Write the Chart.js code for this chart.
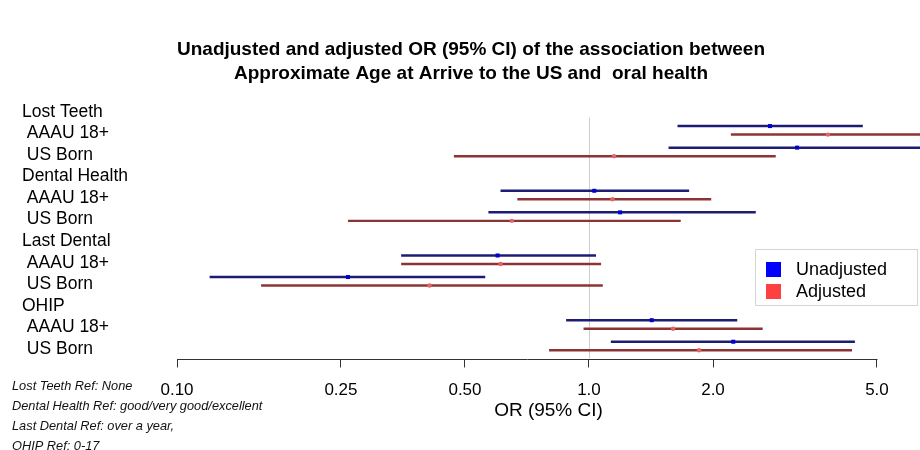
<!DOCTYPE html>
<html>
<head>
<meta charset="utf-8">
<script src="https://cdn.jsdelivr.net/npm/chart.js@4.4.0/dist/chart.umd.min.js"></script>
<style>
  html, body { margin: 0; padding: 0; background: #fff; }
</style>
</head>
<body>
<canvas id="myChart" width="920" height="450"></canvas>
<script>
'use strict';
// data
const rowLabels = ['Lost Teeth', ' AAAU 18+', ' US Born', 'Dental Health', ' AAAU 18+', ' US Born',
    'Last Dental', ' AAAU 18+', ' US Born', 'OHIP', ' AAAU 18+', ' US Born'];
const dataRows = [1, 2, 4, 5, 7, 8, 10, 11];
const unadjOR = [2.75, 3.20, 1.03, 1.19, 0.60, 0.26, 1.42, 2.24];
const unadjLow = [1.64, 1.56, 0.61, 0.57, 0.35, 0.12, 0.88, 1.13];
const unadjHigh = [4.62, 6.58, 1.75, 2.54, 1.04, 0.56, 2.29, 4.42];
const adjOR = [3.80, 1.15, 1.14, 0.65, 0.61, 0.41, 1.60, 1.85];
const adjLow = [2.21, 0.47, 0.67, 0.26, 0.35, 0.16, 0.97, 0.80];
const adjHigh = [6.54, 2.84, 1.98, 1.67, 1.07, 1.08, 2.64, 4.35];
const xTicks = [0.1, 0.25, 0.5, 1, 2, 5];
const xTickLabels = ['0.10', '0.25', '0.50', '1.0', '2.0', '5.0'];
const footnotes = ['Lost Teeth Ref: None', 'Dental Health Ref: good/very good/excellent',
    'Last Dental Ref: over a year,', 'OHIP Ref: 0-17'];
const legendItems = [['Unadjusted', '#0000ff'], ['Adjusted', '#ff4040']];

Chart.defaults.font.family = '"Liberation Sans", Arial, sans-serif';
Chart.defaults.color = '#000';

// extra drawing: reference line, OR points, axis line, legend, footnotes
const forestPlugin = {
    id: 'forest',
    beforeDatasetsDraw(chart) {
        const {ctx, scales: {x, y}, chartArea} = chart;
        const px = Math.round(x.getPixelForValue(1)) + 0.5;
        ctx.save();
        ctx.strokeStyle = '#cfcfcf';
        ctx.lineWidth = 1;
        ctx.beginPath();
        ctx.moveTo(px, y.getPixelForValue(0.4));
        ctx.lineTo(px, chartArea.bottom);
        ctx.stroke();
        ctx.restore();
    },
    afterDatasetsDraw(chart) {
        const {ctx, scales: {x}} = chart;
        ctx.save();
        chart.data.datasets.forEach((ds, di) => {
            const meta = chart.getDatasetMeta(di);
            meta.data.forEach((el, i) => {
                const px = x.getPixelForValue(ds.orValues[i]);
                ctx.fillStyle = ds.pointColor;
                if (di === 0) {
                    ctx.fillRect(px - 2, el.y - 2, 4, 4);
                } else {
                    ctx.beginPath();
                    ctx.arc(px, el.y, 2.2, 0, Math.PI * 2);
                    ctx.fill();
                }
            });
        });
        ctx.restore();
    },
    afterDraw(chart) {
        const {ctx, scales: {x}, chartArea} = chart;
        ctx.save();
        // axis line only between first and last tick
        const yb = Math.round(chartArea.bottom) + 0.5;
        ctx.strokeStyle = '#333';
        ctx.lineWidth = 1;
        ctx.beginPath();
        ctx.moveTo(Math.round(x.getPixelForValue(xTicks[0])) + 0.5, yb);
        ctx.lineTo(Math.round(x.getPixelForValue(xTicks[xTicks.length - 1])) + 0.5, yb);
        ctx.stroke();

        // legend
        ctx.fillStyle = '#fff';
        ctx.fillRect(755, 249, 162, 56);
        ctx.strokeStyle = '#d6d6d6';
        ctx.strokeRect(755.5, 249.5, 162, 56);
        ctx.font = '18px "Liberation Sans", Arial, sans-serif';
        ctx.textBaseline = 'middle';
        legendItems.forEach(([label, color], i) => {
            const cy = 269 + i * 22;
            ctx.fillStyle = color;
            ctx.fillRect(766, cy - 7, 15, 15);
            ctx.fillStyle = '#000';
            ctx.fillText(label, 796, cy + 1);
        });

        // footnotes
        ctx.font = 'italic 12.8px "Liberation Sans", Arial, sans-serif';
        ctx.fillStyle = '#111';
        footnotes.forEach((t, i) => {
            ctx.fillText(t, 12, 386 + i * 20);
        });
        ctx.restore();
    }
};

const ctx = document.getElementById('myChart');
const myChart = new Chart(ctx.getContext('2d'), {
    type: 'bar',
    data: {
        datasets: [{
            label: 'Unadjusted',
            data: dataRows.map((r, i) => ({y: r, x: [unadjLow[i], unadjHigh[i]]})),
            orValues: unadjOR,
            pointColor: '#0000d0',
            backgroundColor: '#1c1c74',
            borderWidth: 0
        }, {
            label: 'Adjusted',
            data: dataRows.map((r, i) => ({y: r, x: [adjLow[i], adjHigh[i]]})),
            orValues: adjOR,
            pointColor: '#e86464',
            backgroundColor: '#8c3434',
            borderWidth: 0
        }]
    },
    options: {
        indexAxis: 'y',
        responsive: false,
        animation: false,
        categoryPercentage: 0.79,
        barPercentage: 0.29,
        layout: {
            padding: {left: 22, right: 0, top: 0, bottom: 0}
        },
        plugins: {
            legend: {display: false},
            tooltip: {enabled: false},
            title: {
                display: true,
                text: ['Unadjusted and adjusted OR (95% CI) of the association between',
                    'Approximate Age at Arrive to the US and  oral health'],
                font: {size: 19, weight: 'bold', lineHeight: 1.263},
                color: '#000',
                padding: {top: 38, bottom: 12}
            }
        },
        scales: {
            x: {
                type: 'logarithmic',
                bounds: 'data',
                min: 0.1,
                max: 6.36,
                afterBuildTicks: s => { s.ticks = xTicks.map(v => ({value: v})); },
                afterFit: s => { s.height = 91.5; },
                ticks: {
                    callback: (v, i) => xTickLabels[i],
                    font: {size: 17},
                    color: '#000',
                    padding: 13,
                    maxRotation: 0,
                    autoSkip: false
                },
                grid: {drawOnChartArea: false, tickLength: 9, color: '#333'},
                border: {display: false},
                title: {
                    display: true,
                    text: 'OR (95% CI)',
                    font: {size: 19},
                    color: '#000',
                    padding: {top: 0, bottom: 28}
                }
            },
            y: {
                type: 'linear',
                reverse: true,
                offset: false,
                min: -0.5,
                max: 11.58,
                afterBuildTicks: s => { s.ticks = rowLabels.map((l, i) => ({value: i})); },
                afterFit: s => { s.width = 155; },
                ticks: {
                    callback: v => rowLabels[v],
                    crossAlign: 'far',
                    labelOffset: 3,
                    font: {size: 17.5},
                    color: '#000',
                    autoSkip: false
                },
                grid: {display: false},
                border: {display: false}
            }
        }
    },
    plugins: [forestPlugin]
});
</script>
</body>
</html>
